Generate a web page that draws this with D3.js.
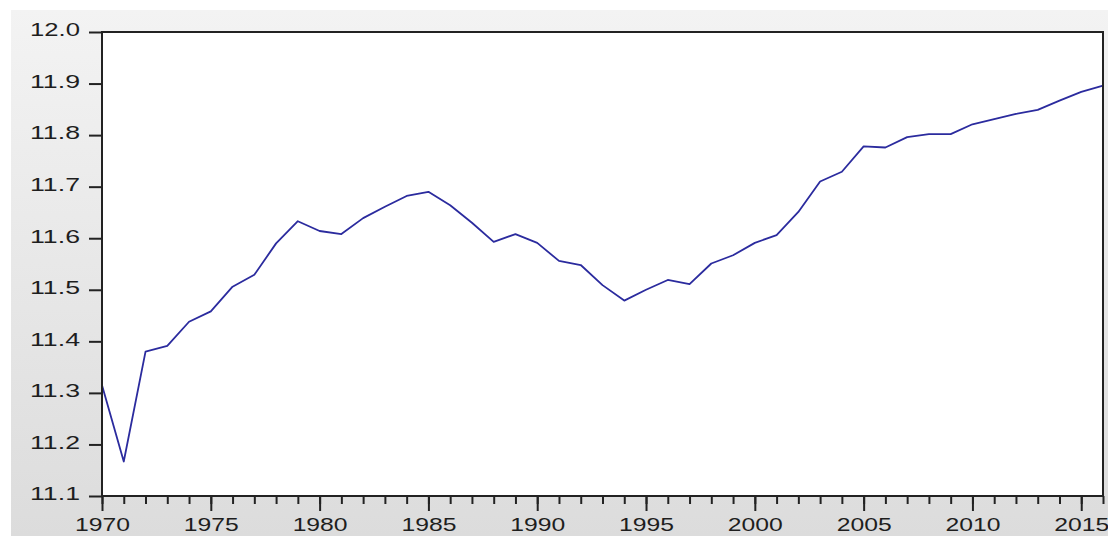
<!DOCTYPE html>
<html>
<head>
<meta charset="utf-8">
<script src="https://cdn.jsdelivr.net/npm/d3@7"></script>
<style>
  html, body { margin: 0; padding: 0; background: #ffffff; }
  svg { display: block; }
</style>
</head>
<body>
<svg id="chart" width="1108" height="536"></svg>
<script>
// ---- data ----
const years = d3.range(1970, 2017);
const values = [
  11.315, 11.167, 11.380, 11.391, 11.438, 11.458, 11.506, 11.529, 11.590, 11.633,
  11.614, 11.608, 11.639, 11.661, 11.682, 11.690, 11.664, 11.630, 11.593, 11.608,
  11.591, 11.556, 11.548, 11.509, 11.479, 11.500, 11.519, 11.511, 11.551, 11.567,
  11.591, 11.606, 11.651, 11.710, 11.729, 11.778, 11.776, 11.796, 11.802, 11.802,
  11.821, 11.831, 11.841, 11.849, 11.867, 11.884, 11.896
];
const yTicks = [11.1, 11.2, 11.3, 11.4, 11.5, 11.6, 11.7, 11.8, 11.9, 12.0];
const xMajorTicks = [1970, 1975, 1980, 1985, 1990, 1995, 2000, 2005, 2010, 2015];

// ---- layout ----
const W = 1108, H = 536;
const plot = { left: 102, top: 32, right: 1103, bottom: 496 };

const svg = d3.select("#chart");

// background gradient
const defs = svg.append("defs");
const grad = defs.append("linearGradient").attr("id", "bg").attr("x1", 0).attr("y1", 0).attr("x2", 0).attr("y2", 1);
grad.append("stop").attr("offset", "0%").attr("stop-color", "#f3f3f3");
grad.append("stop").attr("offset", "100%").attr("stop-color", "#dcdcdc");

svg.append("rect").attr("x", 0).attr("y", 0).attr("width", W).attr("height", H).attr("fill", "#ffffff");
svg.append("rect").attr("x", 11).attr("y", 10).attr("width", W - 11).attr("height", H - 10).attr("fill", "url(#bg)");

const x = d3.scaleLinear().domain([1970, 2016]).range([plot.left, plot.right]);
const y = d3.scaleLinear().domain([11.1, 12.0]).range([plot.bottom, plot.top]);

// plot area
svg.append("rect")
  .attr("x", plot.left).attr("y", plot.top)
  .attr("width", plot.right - plot.left).attr("height", plot.bottom - plot.top)
  .attr("fill", "#ffffff");

const fontFamily = "'Liberation Sans', Arial, sans-serif";

// minor x ticks
const xMinor = svg.append("g")
  .attr("transform", `translate(0,${plot.bottom})`)
  .call(d3.axisBottom(x).tickValues(years).tickSize(8).tickFormat(""));
xMinor.select(".domain").remove();
xMinor.selectAll("line").attr("stroke", "#222").attr("stroke-width", 2);

// major x ticks
const xMajor = svg.append("g")
  .attr("transform", `translate(0,${plot.bottom})`)
  .call(d3.axisBottom(x).tickValues(xMajorTicks).tickSize(15).tickPadding(7).tickFormat(d3.format("d")));
xMajor.select(".domain").remove();
xMajor.selectAll("line").attr("stroke", "#222").attr("stroke-width", 2);
xMajor.selectAll("text")
  .attr("font-family", fontFamily).attr("font-size", 19).attr("fill", "#1e1e1e")
  .attr("textLength", 55).attr("lengthAdjust", "spacingAndGlyphs");

// y axis
const yAxis = svg.append("g")
  .attr("transform", `translate(${plot.left},0)`)
  .call(d3.axisLeft(y).tickValues(yTicks).tickSize(13).tickPadding(9).tickFormat(d3.format(".1f")));
yAxis.select(".domain").remove();
yAxis.selectAll("line").attr("stroke", "#222").attr("stroke-width", 2);
yAxis.selectAll("text")
  .attr("font-family", fontFamily).attr("font-size", 19).attr("fill", "#1e1e1e")
  .attr("dy", "0.2em")
  .attr("textLength", 50).attr("lengthAdjust", "spacingAndGlyphs");

// line
const line = d3.line().x((d, i) => x(years[i])).y(d => y(d));
svg.append("path")
  .datum(values)
  .attr("d", line)
  .attr("fill", "none")
  .attr("stroke", "#2b2b9e")
  .attr("stroke-width", 1.8)
  .attr("stroke-linejoin", "round");

// frame
svg.append("rect")
  .attr("x", plot.left).attr("y", plot.top)
  .attr("width", plot.right - plot.left).attr("height", plot.bottom - plot.top)
  .attr("fill", "none").attr("stroke", "#222").attr("stroke-width", 2);
</script>
</body>
</html>
